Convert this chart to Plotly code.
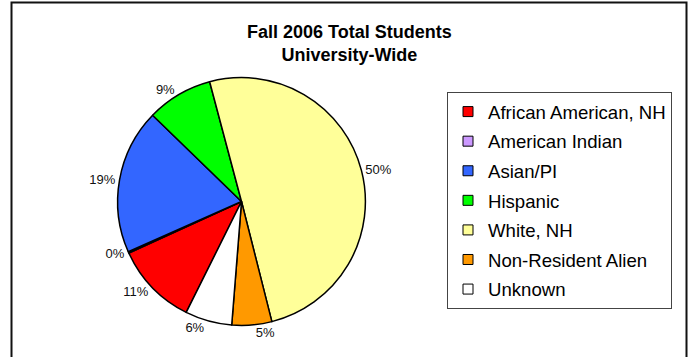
import plotly.graph_objects as go

# Fall 2006 enrollment mix (percent of total students)
categories = ["African American, NH", "American Indian", "Asian/PI", "Hispanic",
              "White, NH", "Non-Resident Alien", "Unknown"]
shares = [10.8, 0.2, 18.9, 8.6, 50.2, 5.2, 6.1]
colors = ["#FF0000", "#CC99FF", "#3366FF", "#00FF00", "#FFFF99", "#FF9900", "#FFFFFF"]

FONT = "Liberation Sans, Arial, sans-serif"

fig = go.Figure()

fig.add_trace(go.Pie(
    labels=categories,
    values=shares,
    sort=False,
    direction="clockwise",
    rotation=-153.5,
    marker=dict(colors=colors, line=dict(color="#000000", width=1.5)),
    texttemplate="%{percent:.0%}",
    textposition="outside",
    outsidetextfont=dict(family=FONT, size=13, color="#111111"),
    showlegend=False,
    domain=dict(x=[0.169, 0.525], y=[0.088, 0.783]),
    hoverinfo="label+percent",
))

# legend entries: one square swatch per category
for name, col in zip(categories, colors):
    fig.add_trace(go.Scatter(
        x=[None], y=[None], mode="markers", name=name, legendgroup=name,
        marker=dict(symbol="square", size=10, color=col,
                    line=dict(color="#000000", width=1)),
        showlegend=True,
    ))

fig.update_layout(
    width=696, height=357,
    margin=dict(l=0, r=0, t=0, b=0),
    paper_bgcolor="white", plot_bgcolor="white",
    xaxis=dict(visible=False), yaxis=dict(visible=False),
    title=dict(
        text="<b>Fall 2006 Total Students<br>University-Wide</b>",
        x=0.502, xanchor="center", xref="paper",
        y=1 - 38 / 357, yanchor="top", yref="container",
        font=dict(family=FONT, size=18, color="#000000"),
    ),
    legend=dict(
        x=447 / 696, y=1 - 92 / 357, xanchor="left", yanchor="top",
        bgcolor="white", bordercolor="#444444", borderwidth=1,
        font=dict(family=FONT, size=18.6, color="#000000"),
        tracegroupgap=2.4,
    ),
    shapes=[dict(
        type="rect", xref="paper", yref="paper",
        x0=11.5 / 696, x1=686.5 / 696, y0=-0.1, y1=1 - 2.5 / 357,
        line=dict(color="#111111", width=2), fillcolor="rgba(0,0,0,0)",
        layer="above",
    )],
)

fig.write_html("out.html")
